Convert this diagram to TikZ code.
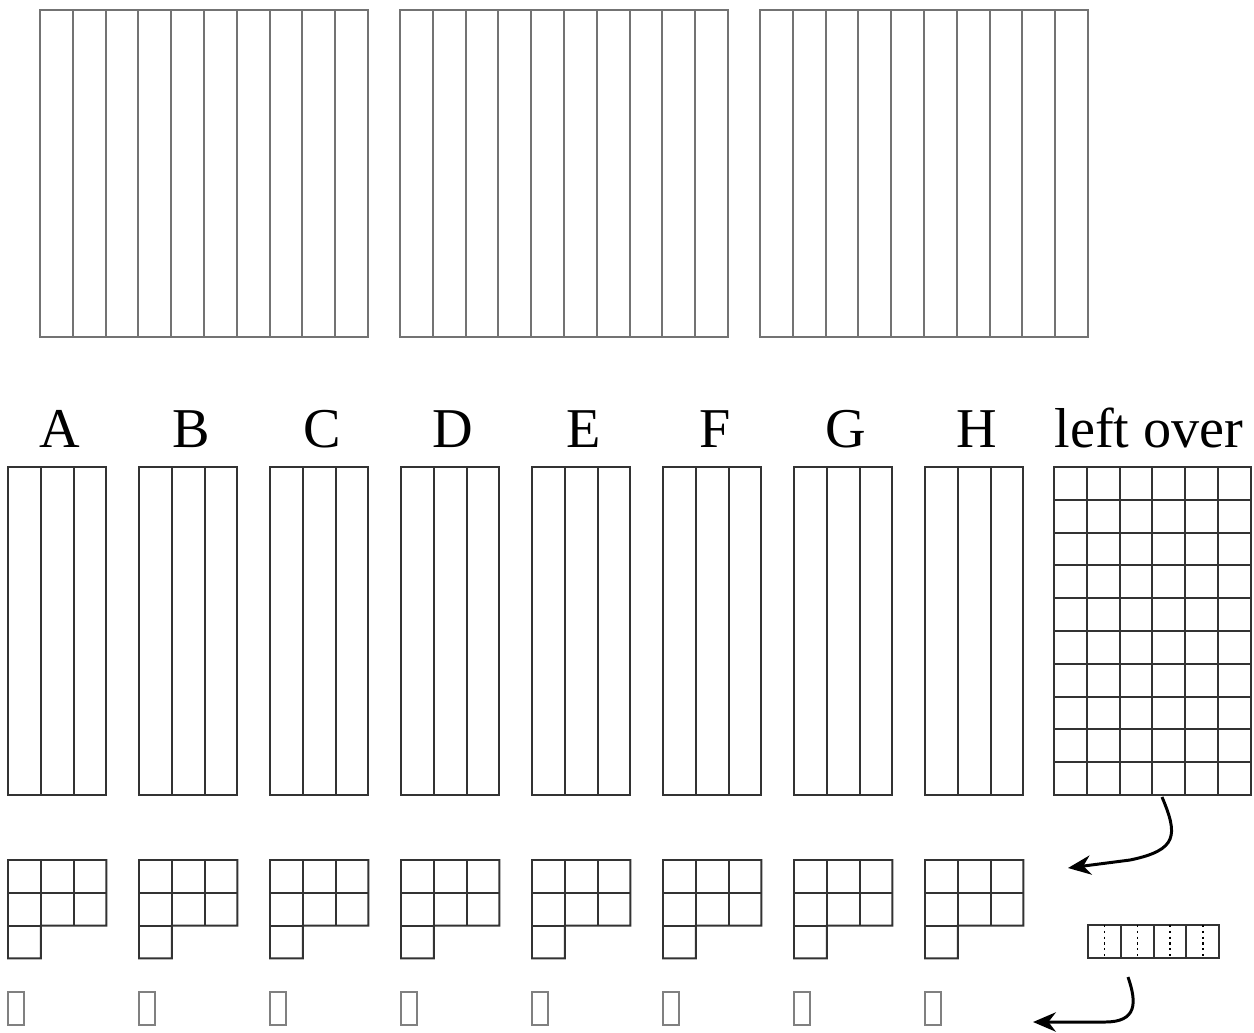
\documentclass[tikz,border=0pt]{standalone}
\usepackage{fontspec}
\setmainfont{Liberation Serif}
\usetikzlibrary{arrows.meta}
\tikzset{
  strip/.style = {draw=black!55, line width=1.1pt},
  bar/.style   = {draw=black!80, line width=1.1pt},
  stub/.style  = {draw=black!50, line width=1.1pt},
  split/.style = {draw=black, line width=0.8pt, dash pattern=on 1.3pt off 2pt},
  lbl/.style   = {font=\fontsize{32}{36}\selectfont, anchor=base, inner sep=0pt},
  arr/.style   = {-{Stealth[length=13pt, width=11pt]}, line width=1.7pt}
}

\begin{document}
\begin{tikzpicture}[x=0.02cm, y=-0.02cm]
  \useasboundingbox (0,0) rectangle (1254,1032);

  % ── Three blocks of ten strips ────────────────────────────────────────────
  \foreach \bx in {40,400,760}{
    \draw[strip] (\bx,10) rectangle ++(328,327);
    \foreach \k in {1,...,9}
      \draw[strip] (\bx+32.8*\k,10) -- ++(0,327);
  }

  % ── Eight shares A..H ─────────────────────────────────────────────────────
  \foreach \name [count=\i from 0] in {A,...,H}{
    \pgfmathsetmacro{\bx}{8+131*\i}
    \node[lbl] (lbl\name) at (\bx+52,447) {\name};
    % three strips
    \draw[bar] (\bx,467) rectangle ++(98.4,328);
    \foreach \k in {1,2}
      \draw[bar] (\bx+32.8*\k,467) -- ++(0,328);
    % L-shaped piece
    \draw[bar] (\bx,860) -- ++(98.4,0) -- ++(0,65.6) -- ++(-65.6,0)
               -- ++(0,32.8) -- ++(-32.8,0) -- cycle;
    \draw[bar] (\bx,892.8) -- ++(98.4,0);
    \draw[bar] (\bx,925.6) -- ++(32.8,0);
    \draw[bar] (\bx+32.8,860) -- ++(0,65.6);
    \draw[bar] (\bx+65.6,860) -- ++(0,65.6);
    % tiny piece
    \draw[stub] (\bx,992) rectangle ++(16.4,33);
  }

  % ── Left over ─────────────────────────────────────────────────────────────
  \node[lbl] (lblLeft) at (1149,447) {left over};
  \draw[bar] (1054,467) rectangle ++(196.8,328);
  \foreach \k in {1,...,5}
    \draw[bar] (1054+32.8*\k,467) -- ++(0,328);
  \foreach \k in {1,...,9}
    \draw[bar] (1054,467+32.8*\k) -- ++(196.8,0);

  % split of the left over
  \draw[bar] (1088,925) rectangle ++(131.2,33);
  \foreach \k in {1,2,3}
    \draw[bar] (1088+32.8*\k,925) -- ++(0,33);
  \foreach \k in {0,...,3}
    \draw[split] (1104.4+32.8*\k,925) -- ++(0,33);

  % ── Arrows ────────────────────────────────────────────────────────────────
  \coordinate (spill)    at (1162,797);
  \coordinate (spillEnd) at (1068,868);
  \coordinate (crumb)    at (1128,977);
  \coordinate (crumbEnd) at (1033,1022);

  \draw[arr] (spill) .. controls (1178,835) and (1178,850) .. (1130,860)
             -- (spillEnd);
  \draw[arr] (crumb) .. controls (1137,1003) and (1137,1022) .. (1105,1022)
             -- (crumbEnd);

\end{tikzpicture}
\end{document}
